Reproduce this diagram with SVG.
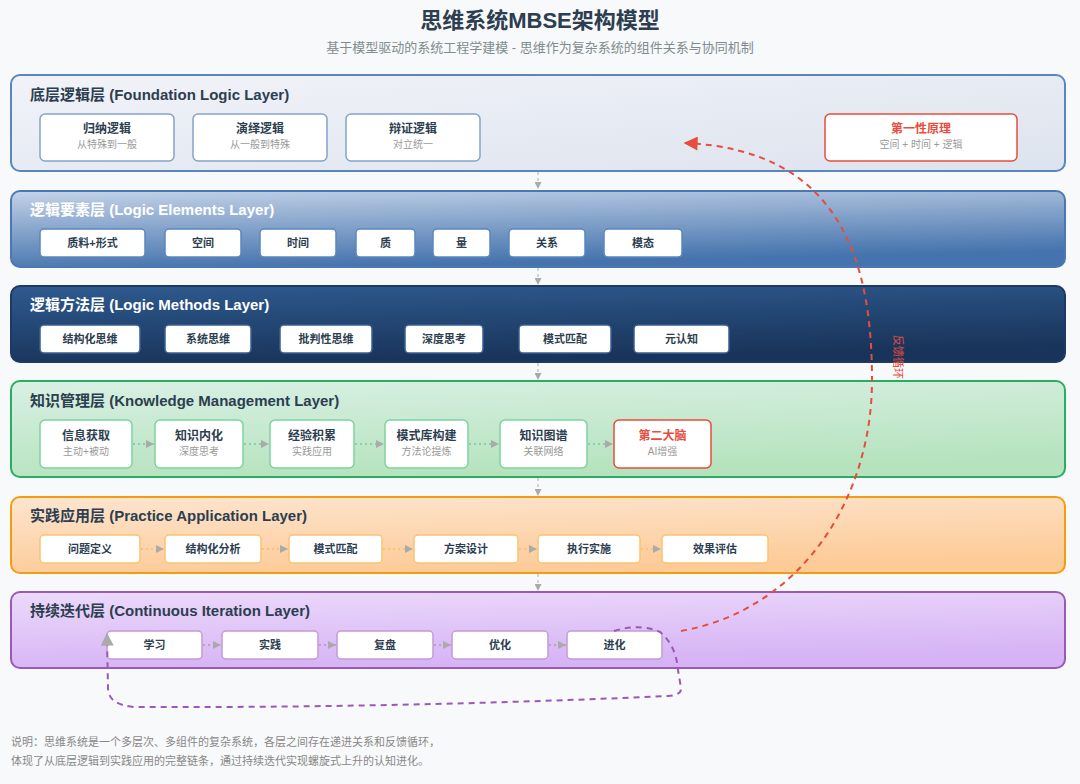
<svg xmlns="http://www.w3.org/2000/svg" width="1080" height="784" viewBox="0 0 1080 784">
<defs>
<linearGradient id="g1" x1="0" y1="0" x2="1" y2="1"><stop offset="0" stop-color="#f1f3f8"/><stop offset="1" stop-color="#dde3ee"/></linearGradient>
<linearGradient id="g2" x1="0" y1="0" x2="0.3" y2="1"><stop offset="0" stop-color="#c4d3e8"/><stop offset="1" stop-color="#4473ad"/></linearGradient>
<linearGradient id="g3" x1="0" y1="0" x2="0.3" y2="1"><stop offset="0" stop-color="#2e5b90"/><stop offset="1" stop-color="#19345a"/></linearGradient>
<linearGradient id="g4" x1="0" y1="0" x2="0.3" y2="1"><stop offset="0" stop-color="#d9f0e4"/><stop offset="1" stop-color="#b6e3be"/></linearGradient>
<linearGradient id="g5" x1="0" y1="0" x2="0.3" y2="1"><stop offset="0" stop-color="#fde5cf"/><stop offset="1" stop-color="#fdcb98"/></linearGradient>
<linearGradient id="g6" x1="0" y1="0" x2="0.3" y2="1"><stop offset="0" stop-color="#ecdafb"/><stop offset="1" stop-color="#d6b3f5"/></linearGradient>
<marker id="ag" viewBox="0 0 10 10" refX="10" refY="5" markerWidth="8" markerHeight="8" markerUnits="userSpaceOnUse" orient="auto"><path d="M0,0 L10,5 L0,10 z" fill="#aaa"/></marker>
<marker id="ad" viewBox="0 0 10 10" refX="10" refY="5" markerWidth="7" markerHeight="7" markerUnits="userSpaceOnUse" orient="auto"><path d="M0,0 L10,5 L0,10 z" fill="#aaa"/></marker>
<marker id="ar" viewBox="0 0 10 10" refX="9" refY="5" markerWidth="16" markerHeight="14" markerUnits="userSpaceOnUse" orient="auto"><path d="M0,0 L10,5 L0,10 z" fill="#e74c3c"/></marker>
<marker id="ap" viewBox="0 0 10 10" refX="9" refY="5" markerWidth="16" markerHeight="13" markerUnits="userSpaceOnUse" orient="auto"><path d="M0,0 L10,5 L0,10 z" fill="#aaa"/></marker>
</defs>
<style>
text{font-family:"Liberation Sans","Noto Sans CJK SC",sans-serif}
.title{font-size:22px;font-weight:bold;fill:#2c3e50;text-anchor:middle}
.subtitle{font-size:13px;fill:#7f8c8d;text-anchor:middle}
.lt{font-size:15px;font-weight:bold;fill:#2c3e50}
.lw{font-size:15px;font-weight:bold;fill:#ffffff}
.layer{stroke-width:2}
.n{fill:#ffffff;stroke-width:1.5}
.nm{font-size:12px;font-weight:bold;fill:#2c3e50;text-anchor:middle}
.ns{font-size:10px;fill:#999;text-anchor:middle}
.ni{font-size:11px;font-weight:bold;fill:#2c3e50;text-anchor:middle}
.red{fill:#e74c3c}
.foot{font-size:11px;fill:#888}
.down{stroke:#bbb;stroke-width:1.2;stroke-dasharray:3,3;fill:none}
.dotg{stroke:#82d4a3;stroke-width:2;stroke-dasharray:2,3;fill:none}
.doto{stroke:#f8c471;stroke-width:2;stroke-dasharray:2,3;fill:none}
.dotp{stroke:#c39bd3;stroke-width:2;stroke-dasharray:2,3;fill:none}
</style>
<rect width="1080" height="784" fill="#f8f9fa"/>
<text class="title" x="540" y="28">思维系统MBSE架构模型</text>
<text class="subtitle" x="540" y="52">基于模型驱动的系统工程学建模 - 思维作为复杂系统的组件关系与协同机制</text>

<g id="layer-foundation">
<rect class="layer" x="11" y="75" width="1054" height="96" rx="9" fill="url(#g1)" stroke="#5a86c0"/>
<text class="lt" x="30" y="100">底层逻辑层 (Foundation Logic Layer)</text>
</g>
<g id="n-guina"><rect class="n" x="40" y="114" width="134" height="47" rx="5" stroke="#85a3cc"/><text class="nm" x="107" y="133">归纳逻辑</text><text class="ns" x="107" y="148">从特殊到一般</text></g>
<g id="n-yanyi"><rect class="n" x="193" y="114" width="134" height="47" rx="5" stroke="#85a3cc"/><text class="nm" x="260" y="133">演绎逻辑</text><text class="ns" x="260" y="148">从一般到特殊</text></g>
<g id="n-bianzheng"><rect class="n" x="346" y="114" width="134" height="47" rx="5" stroke="#85a3cc"/><text class="nm" x="413" y="133">辩证逻辑</text><text class="ns" x="413" y="148">对立统一</text></g>
<g id="n-diyixing"><rect class="n" x="825" y="114" width="192" height="47" rx="5" stroke="#e74c3c" stroke-width="2"/><text class="nm red" x="921" y="133">第一性原理</text><text class="ns" x="921" y="148">空间 + 时间 + 逻辑</text></g>

<g id="layer-elements">
<rect class="layer" x="11" y="191" width="1054" height="76" rx="9" fill="url(#g2)" stroke="#4a78b5"/>
<text class="lw" x="30" y="215">逻辑要素层 (Logic Elements Layer)</text>
</g>
<g id="n-zhiliao"><rect class="n" x="40" y="229" width="105" height="28" rx="4" stroke="#5b86be"/><text class="ni" x="92.5" y="247">质料+形式</text></g>
<g id="n-kongjian"><rect class="n" x="165" y="229" width="76" height="28" rx="4" stroke="#5b86be"/><text class="ni" x="203" y="247">空间</text></g>
<g id="n-shijian"><rect class="n" x="260" y="229" width="76" height="28" rx="4" stroke="#5b86be"/><text class="ni" x="298" y="247">时间</text></g>
<g id="n-zhi"><rect class="n" x="356" y="229" width="59" height="28" rx="4" stroke="#5b86be"/><text class="ni" x="385.5" y="247">质</text></g>
<g id="n-liang"><rect class="n" x="433" y="229" width="57" height="28" rx="4" stroke="#5b86be"/><text class="ni" x="461.5" y="247">量</text></g>
<g id="n-guanxi"><rect class="n" x="509" y="229" width="76" height="28" rx="4" stroke="#5b86be"/><text class="ni" x="547" y="247">关系</text></g>
<g id="n-motai"><rect class="n" x="604" y="229" width="78" height="28" rx="4" stroke="#5b86be"/><text class="ni" x="643" y="247">模态</text></g>

<g id="layer-methods">
<rect class="layer" x="11" y="286" width="1054" height="76" rx="9" fill="url(#g3)" stroke="#1c3a63"/>
<text class="lw" x="30" y="310">逻辑方法层 (Logic Methods Layer)</text>
</g>
<g id="n-jiegouhua"><rect class="n" x="40" y="325" width="100" height="28" rx="4" stroke="#3a5f8f"/><text class="ni" x="90" y="343">结构化思维</text></g>
<g id="n-xitong"><rect class="n" x="165" y="325" width="86" height="28" rx="4" stroke="#3a5f8f"/><text class="ni" x="208" y="343">系统思维</text></g>
<g id="n-pipan"><rect class="n" x="280" y="325" width="92" height="28" rx="4" stroke="#3a5f8f"/><text class="ni" x="326" y="343">批判性思维</text></g>
<g id="n-shendu"><rect class="n" x="405" y="325" width="78" height="28" rx="4" stroke="#3a5f8f"/><text class="ni" x="444" y="343">深度思考</text></g>
<g id="n-moshi"><rect class="n" x="519" y="325" width="92" height="28" rx="4" stroke="#3a5f8f"/><text class="ni" x="565" y="343">模式匹配</text></g>
<g id="n-yuanrenzhi"><rect class="n" x="634" y="325" width="95" height="28" rx="4" stroke="#3a5f8f"/><text class="ni" x="681.5" y="343">元认知</text></g>

<g id="layer-knowledge">
<rect class="layer" x="11" y="381" width="1054" height="96" rx="9" fill="url(#g4)" stroke="#27ae60"/>
<text class="lt" x="30" y="406">知识管理层 (Knowledge Management Layer)</text>
</g>
<g id="n-xinxi"><rect class="n" x="40" y="420" width="92" height="48" rx="5" stroke="#7dd3a0"/><text class="nm" x="86" y="440">信息获取</text><text class="ns" x="86" y="455">主动+被动</text></g>
<g id="n-neihua"><rect class="n" x="155" y="420" width="88" height="48" rx="5" stroke="#7dd3a0"/><text class="nm" x="199" y="440">知识内化</text><text class="ns" x="199" y="455">深度思考</text></g>
<g id="n-jingyan"><rect class="n" x="270" y="420" width="84" height="48" rx="5" stroke="#7dd3a0"/><text class="nm" x="312" y="440">经验积累</text><text class="ns" x="312" y="455">实践应用</text></g>
<g id="n-moshiku"><rect class="n" x="385" y="420" width="83" height="48" rx="5" stroke="#7dd3a0"/><text class="nm" x="426.5" y="440">模式库构建</text><text class="ns" x="426.5" y="455">方法论提炼</text></g>
<g id="n-tupu"><rect class="n" x="500" y="420" width="87" height="48" rx="5" stroke="#7dd3a0"/><text class="nm" x="543.5" y="440">知识图谱</text><text class="ns" x="543.5" y="455">关联网络</text></g>
<g id="n-dier"><rect class="n" x="614" y="420" width="97" height="48" rx="5" stroke="#e74c3c" stroke-width="2"/><text class="nm red" x="662.5" y="440">第二大脑</text><text class="ns" x="662.5" y="455">AI增强</text></g>

<g id="layer-practice">
<rect class="layer" x="11" y="497" width="1054" height="76" rx="9" fill="url(#g5)" stroke="#f39c12"/>
<text class="lt" x="30" y="521">实践应用层 (Practice Application Layer)</text>
</g>
<g id="n-wenti"><rect class="n" x="40" y="535" width="100" height="28" rx="4" stroke="#f8c471"/><text class="ni" x="90" y="553">问题定义</text></g>
<g id="n-fenxi"><rect class="n" x="165" y="535" width="96" height="28" rx="4" stroke="#f8c471"/><text class="ni" x="213" y="553">结构化分析</text></g>
<g id="n-pipei"><rect class="n" x="289" y="535" width="93" height="28" rx="4" stroke="#f8c471"/><text class="ni" x="335.5" y="553">模式匹配</text></g>
<g id="n-fangan"><rect class="n" x="414" y="535" width="104" height="28" rx="4" stroke="#f8c471"/><text class="ni" x="466" y="553">方案设计</text></g>
<g id="n-zhixing"><rect class="n" x="538" y="535" width="102" height="28" rx="4" stroke="#f8c471"/><text class="ni" x="589" y="553">执行实施</text></g>
<g id="n-xiaoguo"><rect class="n" x="662" y="535" width="106" height="28" rx="4" stroke="#f8c471"/><text class="ni" x="715" y="553">效果评估</text></g>

<g id="layer-iteration">
<rect class="layer" x="11" y="592" width="1054" height="76" rx="9" fill="url(#g6)" stroke="#9b59b6"/>
<text class="lt" x="30" y="616">持续迭代层 (Continuous Iteration Layer)</text>
</g>
<g id="n-xuexi"><rect class="n" x="107" y="631" width="95" height="28" rx="4" stroke="#c39bd3"/><text class="ni" x="154.5" y="649">学习</text></g>
<g id="n-shijian2"><rect class="n" x="222" y="631" width="96" height="28" rx="4" stroke="#c39bd3"/><text class="ni" x="270" y="649">实践</text></g>
<g id="n-fupan"><rect class="n" x="337" y="631" width="96" height="28" rx="4" stroke="#c39bd3"/><text class="ni" x="385" y="649">复盘</text></g>
<g id="n-youhua"><rect class="n" x="452" y="631" width="96" height="28" rx="4" stroke="#c39bd3"/><text class="ni" x="500" y="649">优化</text></g>
<g id="n-jinhua"><rect class="n" x="567" y="631" width="95" height="28" rx="4" stroke="#c39bd3"/><text class="ni" x="614.5" y="649">进化</text></g>

<g id="connectors">
<path class="down" d="M538 172 V189" marker-end="url(#ad)"/>
<path class="down" d="M538 268 V285" marker-end="url(#ad)"/>
<path class="down" d="M538 363 V380" marker-end="url(#ad)"/>
<path class="down" d="M538 478 V496" marker-end="url(#ad)"/>
<path class="down" d="M538 574 V591" marker-end="url(#ad)"/>
<path class="dotg" d="M133 444 H154" marker-end="url(#ag)"/>
<path class="dotg" d="M244 444 H269" marker-end="url(#ag)"/>
<path class="dotg" d="M355 444 H384" marker-end="url(#ag)"/>
<path class="dotg" d="M469 444 H499" marker-end="url(#ag)"/>
<path class="dotg" d="M588 444 H613" marker-end="url(#ag)"/>
<path class="doto" d="M141 549 H164" marker-end="url(#ag)"/>
<path class="doto" d="M262 549 H288" marker-end="url(#ag)"/>
<path class="doto" d="M383 549 H413" marker-end="url(#ag)"/>
<path class="doto" d="M519 549 H537" marker-end="url(#ag)"/>
<path class="doto" d="M641 549 H661" marker-end="url(#ag)"/>
<path class="dotp" d="M203 645 H221" marker-end="url(#ag)"/>
<path class="dotp" d="M319 645 H336" marker-end="url(#ag)"/>
<path class="dotp" d="M434 645 H451" marker-end="url(#ag)"/>
<path class="dotp" d="M549 645 H566" marker-end="url(#ag)"/>
<path d="M681 631 C800 610 872 500 872 380 C872 260 840 150 685 143" fill="none" stroke="#e74c3c" stroke-width="2" stroke-dasharray="6,5" marker-end="url(#ar)"/>
<text x="897" y="357" transform="rotate(90 897 357)" font-size="11" fill="#e74c3c" text-anchor="middle" dominant-baseline="middle">反馈循环</text>
<path d="M614 631 Q640 623 660 632 Q676 645 678 670 L681 688 Q682 695 668 696 Q400 708 135 707 Q108 705 108 688 L107 634" fill="none" stroke="#9b59b6" stroke-width="2" stroke-dasharray="6,5" marker-end="url(#ap)"/>
</g>

<text class="foot" x="11" y="746">说明：思维系统是一个多层次、多组件的复杂系统，各层之间存在递进关系和反馈循环，</text>
<text class="foot" x="11" y="765">体现了从底层逻辑到实践应用的完整链条，通过持续迭代实现螺旋式上升的认知进化。</text>
</svg>
